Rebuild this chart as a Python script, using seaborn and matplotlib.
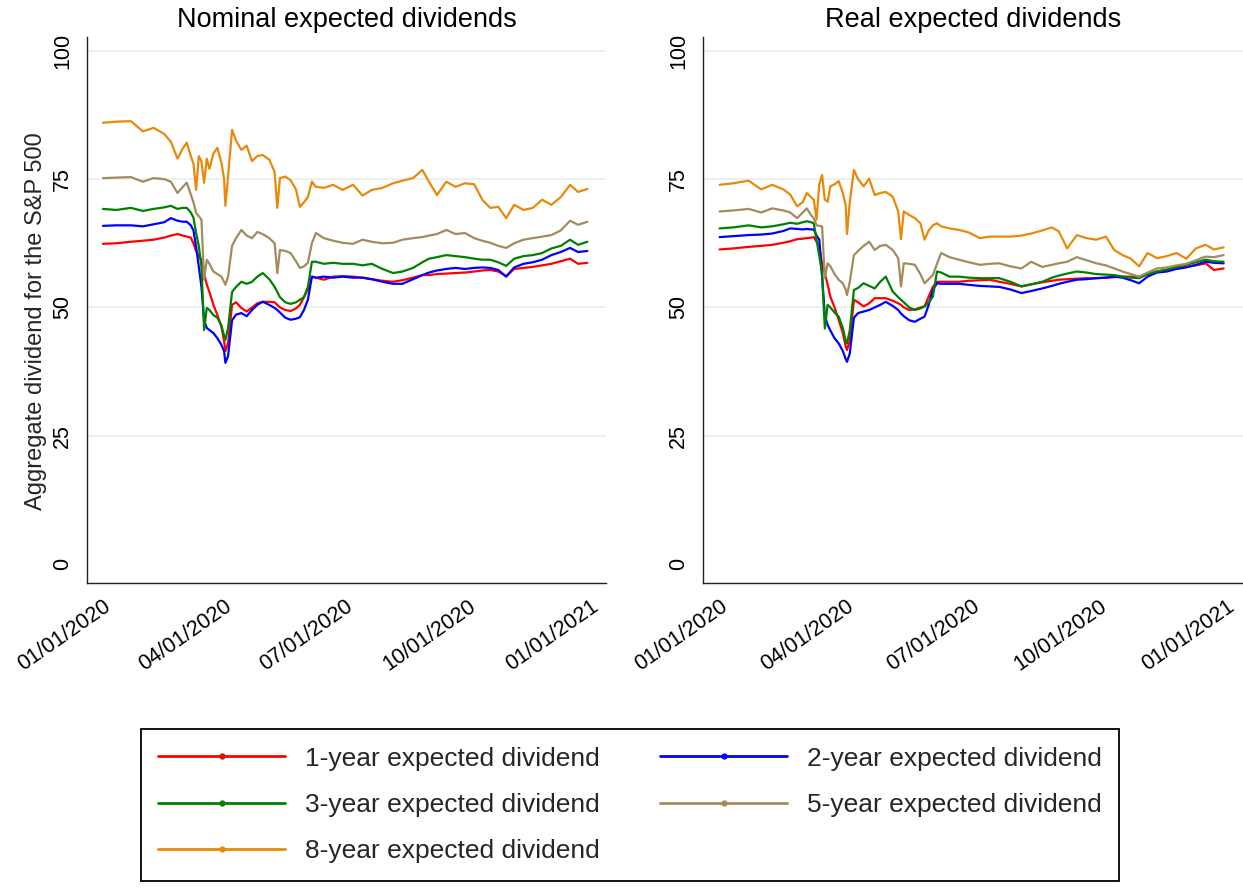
import numpy as np
import pandas as pd
import matplotlib
matplotlib.use("Agg")
import matplotlib.pyplot as plt
import matplotlib.dates as mdates
from matplotlib.lines import Line2D
import seaborn as sns

# ---------------- data ----------------
day_offsets = [0, 10, 21, 30, 38, 46, 51, 56, 60, 63, 66, 68, 70, 72, 74, 76, 78, 80, 83, 86,
               89, 91, 92, 94, 97, 100, 104, 108, 112, 116, 120, 125, 129, 131, 133, 137, 141, 145, 148, 151,
               154, 157, 160, 166, 173, 180, 188, 195, 202, 210, 218, 225, 233, 240, 245, 251, 258, 265, 272, 279,
               285, 291, 297, 303, 309, 316, 323, 330, 337, 344, 351, 357, 364]

nominal_1y = [62.4, 62.5, 62.8, 63.0, 63.2, 63.6, 64.0, 64.3, 64.0, 63.8, 63.6, 62.5, 61.0, 60.0, 59.3, 56.5, 54.5, 53.0, 50.5, 48.5,
              46.2, 43.5, 41.5, 43.0, 50.5, 51.0, 49.9, 49.2, 50.0, 50.8, 51.1, 51.1, 51.0, 50.5, 50.0, 49.5, 49.3, 49.8, 50.5, 52.0,
              53.5, 56.0, 55.8, 55.4, 56.0, 56.1, 56.0, 55.8, 55.5, 55.2, 55.0, 55.3, 55.8, 56.3, 56.3, 56.5, 56.6, 56.7, 56.8, 57.0,
              57.2, 57.3, 57.0, 56.1, 57.5, 57.7, 57.9, 58.2, 58.5, 59.0, 59.5, 58.5, 58.7]
nominal_2y = [65.9, 66.0, 66.0, 65.8, 66.2, 66.6, 67.4, 66.9, 66.7, 66.7, 66.0, 65.0, 61.8, 58.0, 54.0, 47.5, 46.0, 45.6, 45.0, 44.0,
              42.7, 41.5, 39.2, 40.5, 47.5, 48.6, 48.9, 48.3, 49.5, 50.5, 51.1, 50.5, 49.9, 49.5, 49.0, 48.0, 47.6, 47.8, 48.1, 49.5,
              51.5, 56.0, 55.8, 56.0, 55.8, 56.0, 55.8, 55.8, 55.5, 55.0, 54.6, 54.6, 55.5, 56.3, 56.8, 57.2, 57.5, 57.7, 57.5, 57.7,
              57.8, 57.7, 57.3, 56.0, 57.8, 58.5, 58.8, 59.3, 60.2, 60.8, 61.6, 60.8, 61.0]
nominal_3y = [69.2, 69.0, 69.4, 68.8, 69.2, 69.5, 69.8, 69.2, 69.4, 69.4, 68.5, 67.5, 64.5, 62.0, 57.9, 45.6, 49.9, 49.5, 48.5, 48.0,
              46.5, 44.5, 43.7, 46.0, 53.0, 54.0, 55.0, 54.6, 55.0, 56.0, 56.7, 55.5, 54.0, 53.0, 52.0, 51.0, 50.7, 51.0, 51.5, 52.0,
              54.0, 58.9, 58.9, 58.5, 58.7, 58.5, 58.5, 58.2, 58.5, 57.5, 56.7, 57.0, 57.7, 58.8, 59.5, 59.8, 60.2, 60.0, 59.8, 59.5,
              59.3, 59.3, 58.8, 58.1, 59.5, 60.0, 60.2, 60.6, 61.5, 62.0, 63.2, 62.2, 62.8]
nominal_5y = [75.2, 75.3, 75.4, 74.5, 75.2, 75.0, 74.5, 72.3, 73.5, 74.3, 72.0, 70.5, 68.4, 67.8, 67.1, 55.4, 59.3, 58.5, 57.0, 56.5,
              56.0, 55.0, 54.4, 56.0, 62.0, 63.5, 65.1, 64.0, 63.5, 64.7, 64.3, 63.5, 62.5, 56.7, 61.2, 61.0, 60.6, 59.0, 57.7, 58.0,
              58.7, 62.5, 64.5, 63.5, 63.0, 62.6, 62.4, 63.2, 62.8, 62.5, 62.6, 63.2, 63.5, 63.7, 64.0, 64.3, 65.1, 64.3, 64.5, 63.5,
              63.0, 62.6, 62.0, 61.6, 62.5, 63.2, 63.5, 63.8, 64.1, 65.0, 66.9, 66.1, 66.7]
nominal_8y = [86.0, 86.2, 86.3, 84.3, 85.0, 83.8, 82.3, 79.0, 81.0, 82.1, 79.5, 78.0, 72.9, 79.5, 78.5, 74.3, 79.0, 77.0, 80.0, 81.1,
              78.2, 75.0, 69.8, 75.5, 84.6, 82.5, 80.7, 81.5, 78.5, 79.5, 79.7, 78.8, 76.4, 69.4, 75.2, 75.5, 74.8, 73.0, 69.6, 70.5,
              71.5, 74.5, 73.5, 73.3, 73.9, 72.9, 73.9, 71.8, 72.9, 73.3, 74.2, 74.7, 75.2, 76.8, 74.5, 71.9, 74.5, 73.5, 74.2, 74.0,
              71.0, 69.4, 69.6, 67.4, 70.0, 69.0, 69.4, 71.0, 70.0, 71.5, 73.9, 72.5, 73.1]

real_1y = [61.3, 61.5, 61.8, 62.0, 62.2, 62.6, 62.9, 63.3, 63.4, 63.5, 63.6, 63.7, 62.8, 61.9, 58.5, 56.6, 54.5, 52.1, 50.0, 47.6,
           45.0, 42.5, 41.7, 43.5, 51.5, 51.0, 50.2, 50.8, 51.8, 51.8, 51.8, 51.3, 50.8, 50.5, 50.0, 49.5, 49.6, 50.0, 50.2, 52.1,
           54.0, 55.0, 55.0, 55.0, 55.0, 55.2, 55.3, 55.4, 55.0, 54.6, 54.1, 54.5, 54.9, 55.2, 55.4, 55.5, 55.6, 55.7, 55.7, 55.8,
           55.9, 56.0, 56.0, 56.0, 56.5, 57.0, 57.3, 57.6, 57.9, 58.2, 58.6, 57.3, 57.6]
real_2y = [63.7, 63.9, 64.1, 64.2, 64.4, 64.9, 65.4, 65.3, 65.2, 65.3, 65.2, 65.2, 64.0, 63.2, 56.0, 48.5, 46.6, 45.5, 44.0, 43.0,
           41.5, 40.0, 39.4, 41.0, 48.0, 48.9, 49.2, 49.5, 50.0, 50.5, 51.1, 50.3, 49.5, 48.8, 48.3, 47.5, 47.2, 47.8, 48.2, 50.5,
           53.4, 54.7, 54.6, 54.6, 54.6, 54.4, 54.2, 54.1, 54.0, 53.5, 52.8, 53.2, 53.7, 54.2, 54.6, 55.0, 55.4, 55.5, 55.7, 55.8,
           56.0, 55.8, 55.3, 54.7, 56.0, 56.8, 57.0, 57.5, 57.8, 58.3, 58.9, 58.7, 58.6]
real_3y = [65.4, 65.6, 66.0, 65.6, 65.8, 66.2, 66.5, 66.3, 66.6, 66.8, 66.6, 66.4, 63.2, 60.0, 56.6, 45.9, 50.5, 50.0, 49.0, 48.2,
           46.0, 43.5, 43.0, 45.5, 53.4, 53.8, 54.7, 54.2, 53.7, 55.0, 56.0, 53.1, 52.0, 51.5, 51.0, 50.0, 49.5, 49.8, 50.2, 51.0,
           52.1, 57.0, 56.8, 56.0, 56.0, 55.8, 55.7, 55.7, 55.7, 55.0, 54.1, 54.5, 55.0, 55.8, 56.2, 56.6, 57.0, 56.8, 56.5, 56.4,
           56.3, 56.0, 55.8, 55.7, 56.5, 57.0, 57.4, 57.9, 58.3, 58.8, 59.3, 59.0, 58.9]
real_5y = [68.7, 68.9, 69.2, 68.5, 69.3, 68.9, 68.5, 67.4, 68.5, 69.3, 68.0, 67.4, 66.0, 65.9, 65.8, 55.7, 58.6, 58.0, 56.5, 55.4,
           54.7, 53.5, 52.4, 55.0, 60.2, 61.0, 62.0, 62.8, 61.2, 62.0, 62.2, 61.2, 59.6, 54.1, 58.6, 58.5, 58.3, 56.5, 54.7, 55.5,
           56.3, 58.5, 60.6, 59.8, 59.3, 58.8, 58.3, 58.5, 58.6, 58.0, 57.6, 58.9, 57.9, 58.3, 58.6, 58.9, 59.8, 59.2, 58.6, 58.2,
           57.6, 57.0, 56.5, 56.0, 56.8, 57.6, 57.8, 58.2, 58.5, 59.2, 59.9, 59.8, 60.2]
real_8y = [73.9, 74.2, 74.7, 73.0, 73.9, 73.0, 72.0, 69.7, 70.5, 72.3, 71.5, 71.0, 67.1, 74.0, 75.8, 71.0, 70.6, 73.6, 74.0, 74.6,
           72.3, 70.0, 64.3, 70.5, 76.8, 75.0, 73.6, 75.1, 71.9, 72.3, 72.5, 71.6, 68.7, 63.3, 68.7, 68.0, 67.4, 66.4, 63.2, 65.0,
           66.0, 66.4, 65.8, 65.4, 65.1, 64.6, 63.5, 63.8, 63.8, 63.8, 64.0, 64.4, 65.0, 65.6, 64.8, 61.5, 64.1, 63.5, 63.2, 63.8,
           61.2, 60.2, 59.5, 58.0, 60.6, 59.6, 60.0, 60.6, 59.5, 61.5, 62.2, 61.3, 61.7]

series_labels = ["1-year expected dividend", "2-year expected dividend", "3-year expected dividend",
                 "5-year expected dividend", "8-year expected dividend"]
panel_titles = ["Nominal expected dividends", "Real expected dividends"]
y_ticks = [0, 25, 50, 75, 100]
x_tick_dates = ["2020-01-01", "2020-04-01", "2020-07-01", "2020-10-01", "2021-01-01"]
y_title = "Aggregate dividend for the S&P 500"

# ---------------- styling ----------------
colors = ["#FF0000", "#0000FF", "#008000", "#A38B5C", "#E8890C"]
palette = dict(zip(series_labels, colors))

sns.set_style("white")
plt.rcParams["font.family"] = ["Liberation Sans", "DejaVu Sans"]

dates = pd.Timestamp("2020-01-01") + pd.to_timedelta(day_offsets, unit="D")


def long_frame(series_list):
    frames = []
    for lab, vals in zip(series_labels, series_list):
        frames.append(pd.DataFrame({"date": dates, "value": vals, "series": lab}))
    return pd.concat(frames, ignore_index=True)


df_nom = long_frame([nominal_1y, nominal_2y, nominal_3y, nominal_5y, nominal_8y])
df_real = long_frame([real_1y, real_2y, real_3y, real_5y, real_8y])

W, H = 1243, 888
fig = plt.figure(figsize=(W / 100, H / 100), dpi=100)
ax1 = fig.add_axes([87 / W, 1 - 583 / H, 519 / W, 546 / H])
ax2 = fig.add_axes([703 / W, 1 - 583 / H, 540 / W, 546 / H])

xlo = pd.Timestamp("2019-12-20")
xhi = pd.Timestamp("2021-01-13")
tick_dates = pd.to_datetime(x_tick_dates)

for ax, df, title in [(ax1, df_nom, panel_titles[0]), (ax2, df_real, panel_titles[1])]:
    sns.lineplot(data=df, x="date", y="value", hue="series", hue_order=series_labels,
                 palette=palette, estimator=None, linewidth=1.6, legend=False, ax=ax)
    ax.set_xlim(xlo, xhi)
    ax.set_ylim(-3.7, 102.7)
    ax.set_yticks(y_ticks)
    ax.set_xticks(tick_dates)
    ax.xaxis.set_major_formatter(mdates.DateFormatter("%m/%d/%Y"))
    for yv in y_ticks[1:]:
        ax.axhline(yv, color="#E6EFF1", lw=1.2, zorder=0)
    for s in ["top", "right"]:
        ax.spines[s].set_visible(False)
    for s in ["left", "bottom"]:
        ax.spines[s].set_color("#222222")
        ax.spines[s].set_linewidth(1.0)
    ax.tick_params(axis="both", direction="out", length=6, width=1.0, color="#222222",
                   labelsize=15.5, labelcolor="black")
    ax.tick_params(axis="y", pad=4)
    ax.tick_params(axis="x", pad=3)
    for lab in ax.get_yticklabels():
        lab.set_rotation(90)
        lab.set_va("center")
    for lab in ax.get_xticklabels():
        lab.set_rotation(35)
        lab.set_ha("right")
        lab.set_rotation_mode("anchor")
    ax.set_xlabel("")
    ax.set_ylabel("")
    ax.set_title(title, fontsize=19.5, pad=7, color="black")
    ax.set_facecolor("white")

ax1.set_ylabel(y_title, fontsize=17)
ax1.yaxis.set_label_coords(-0.078, 0.48)

handles = [Line2D([0], [0], color=c, lw=2.0, marker="o", markersize=3.5) for c in colors]
order = [0, 2, 4, 1, 3]
leg = fig.legend([handles[i] for i in order], [series_labels[i] for i in order],
                 loc="center", bbox_to_anchor=(630 / W, 1 - 805 / H), ncol=2,
                 fontsize=19, handlelength=4.8, handletextpad=0.75, columnspacing=2.3,
                 labelspacing=0.85, borderpad=0.65, fancybox=False, framealpha=1,
                 edgecolor="black")
leg.get_frame().set_linewidth(1.3)

fig.savefig("out.png", dpi=100, facecolor="white")
